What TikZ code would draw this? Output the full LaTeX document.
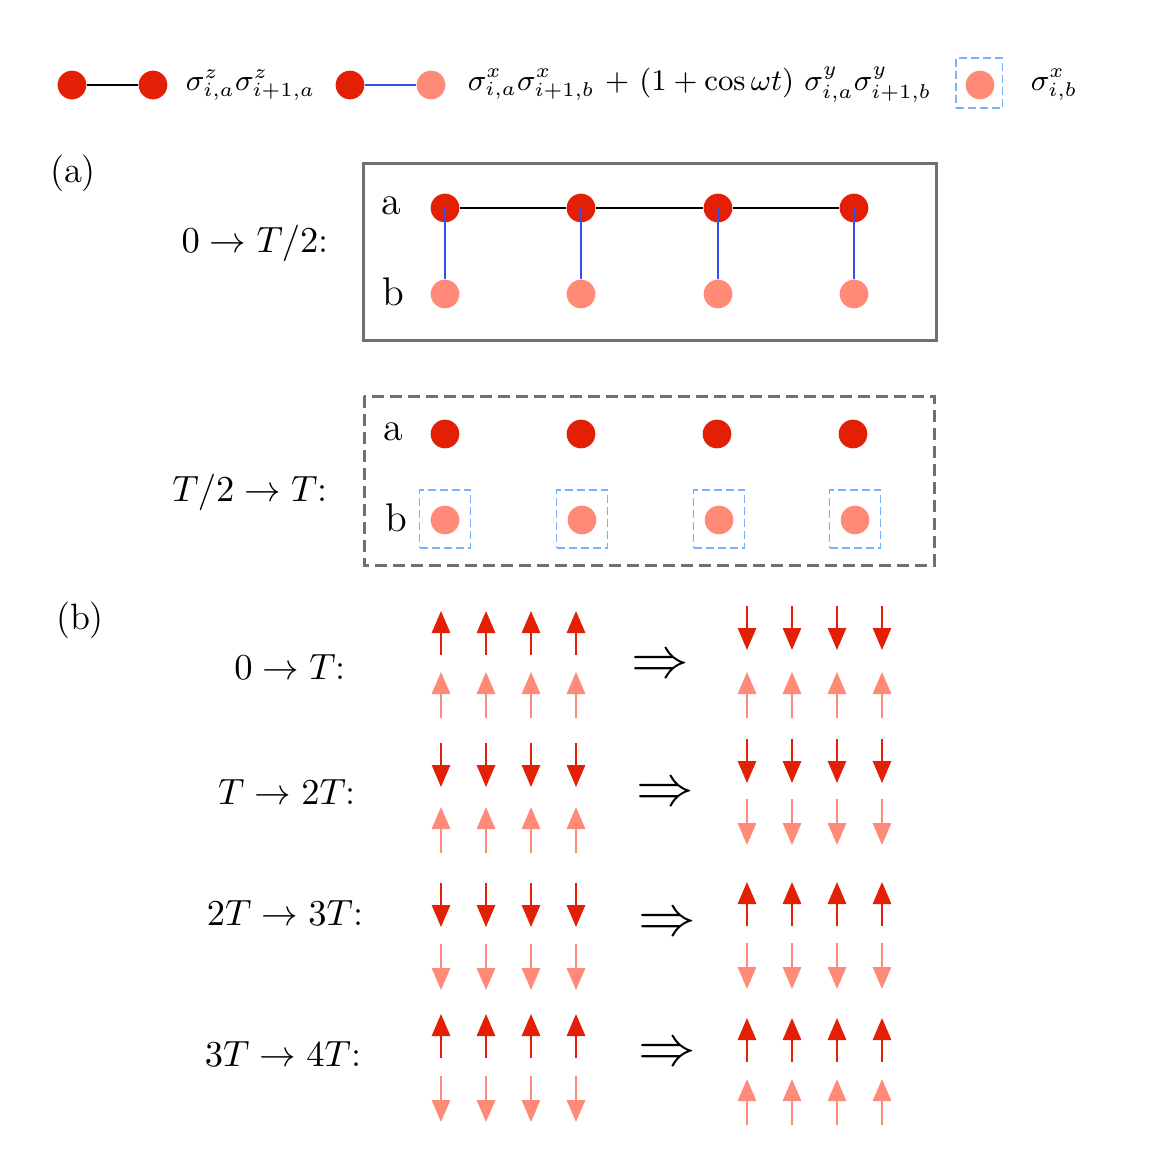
\documentclass[tikz,border=0pt]{standalone}
\usepackage{amsmath,amssymb}
\usepackage{xcolor}
\usepackage{tikz}
\usetikzlibrary{arrows.meta,positioning}

\definecolor{sitered}{RGB}{227,32,6}
\definecolor{sitepink}{RGB}{255,138,120}
\definecolor{bondblue}{RGB}{48,80,240}
\definecolor{fieldblue}{RGB}{122,176,255}
\definecolor{framegray}{RGB}{112,112,112}

\begin{document}
\begin{tikzpicture}[
    x=0.3pt, y=-0.3pt,
    every node/.style={font=\fontsize{11}{13.5}\selectfont},
    legend/.style={font=\small, anchor=west},
    siteA/.style={
        circle,
        fill=sitered,
        minimum size=8.6pt,
        inner sep=0pt
    },
    siteB/.style={
        circle,
        fill=sitepink,
        minimum size=8.6pt,
        inner sep=0pt
    },
    zzbond/.style={
        black,
        line width=0.7pt
    },
    xybond/.style={
        bondblue,
        line width=0.7pt
    },
    fieldbox/.style={
        draw=fieldblue,
        line width=0.5pt,
        dash pattern=on 2.4pt off 1.2pt,
        minimum width=15.3pt,
        minimum height=17.4pt
    },
    frame/.style={
        draw=framegray,
        line width=0.9pt
    },
    spinred/.style={
        sitered,
        line width=0.6pt,
        -{Triangle[length=6.6pt,width=5.5pt]}
    },
    spinpink/.style={
        sitepink,
        line width=0.6pt,
        -{Triangle[length=6.6pt,width=5.5pt]}
    }
]

\useasboundingbox (0,0) rectangle (1148,1172);

% =========================================================
% LEGEND
% =========================================================

\node[siteA] (lzz1) at (72,85) {};
\node[siteA] (lzz2) at (153,85) {};
\draw[zzbond] (lzz1) -- (lzz2);
\node[legend] (lzztext) at (174,85) {$\sigma^z_{i,a}\sigma^z_{i+1,a}$};

\node[siteA] (lxy1) at (350,85) {};
\node[siteB] (lxy2) at (431,85) {};
\draw[xybond] (lxy1) -- (lxy2);
\node[legend] (lxytext) at (456,85)
    {$\sigma^x_{i,a}\sigma^x_{i+1,b}$ + $(1+\cos\omega t)$ $\sigma^y_{i,a}\sigma^y_{i+1,b}$};

\node[siteB] (lx) at (980,85) {};
\node[fieldbox, minimum width=14pt, minimum height=15pt] (lxbox) at (979,83) {};
\node[legend] (lxtext) at (1019,85) {$\sigma^x_{i,b}$};


% =========================================================
% PANEL (a)
% =========================================================

\node (pa) at (73,173) {(a)};

% first half period
\draw[frame] (363,163) rectangle (936,340);
\node (lab1) at (255,243) {$0\rightarrow T/2$:};
\node[font=\large] (ra1) at (391,206) {a};
\node[font=\large] (rb1) at (393,292) {b};

\foreach \i/\x in {1/445, 2/581, 3/718, 4/854} {
    \node[siteA] (a\i) at (\x,208) {};
    \node[siteB] (b\i) at (\x,294) {};
    \draw[xybond] (a\i.center) -- (b\i);
}
\draw[zzbond] (a1) -- (a2) -- (a3) -- (a4);

% second half period
\draw[frame, dash pattern=on 3.6pt off 1.8pt] (364,396) rectangle (934,565);
\node (lab2) at (250,492) {$T/2\rightarrow T$:};
\node[font=\large] (ra2) at (393,432) {a};
\node[font=\large] (rb2) at (396,518) {b};

\foreach \i/\xa/\xb in {1/445/445, 2/581/582, 3/717/719, 4/853/855} {
    \node[siteA] (c\i) at (\xa,434) {};
    \node[siteB] (d\i) at (\xb,520) {};
    \node[fieldbox] (f\i) at (\xb,519) {};
}


% =========================================================
% PANEL (b)
% =========================================================

\node (pb) at (80,620) {(b)};

\node (t1) at (290,667) {$0\rightarrow T$:};
\node (t2) at (287,792) {$T\rightarrow 2T$:};
\node (t3) at (285,913) {$2T\rightarrow 3T$:};
\node (t4) at (283,1054) {$3T\rightarrow 4T$:};

\node[font=\LARGE] (imp1) at (660,667) {$\Rightarrow$};
\node[font=\LARGE] (imp2) at (665,795) {$\Rightarrow$};
\node[font=\LARGE] (imp3) at (667,925) {$\Rightarrow$};
\node[font=\LARGE] (imp4) at (667,1055) {$\Rightarrow$};

% column start / red centre / red sign / pink centre / pink sign
\foreach \c/\ya/\sa/\yb/\sb in {
    441/633/1/695/1,     747/628/-1/695/1,
    441/765/-1/830/1,    747/761/-1/822/-1,
    441/905/-1/967/-1,   747/904/1/966/-1,
    441/1036/1/1099/-1,  747/1040/1/1102/1} {
    \foreach \k in {0,1,2,3} {
        \draw[spinred] (\c+45*\k,\ya+22*\sa) -- (\c+45*\k,\ya-22*\sa);
        \draw[spinpink] (\c+45*\k,\yb+23*\sb) -- (\c+45*\k,\yb-23*\sb);
    }
}

\end{tikzpicture}
\end{document}
